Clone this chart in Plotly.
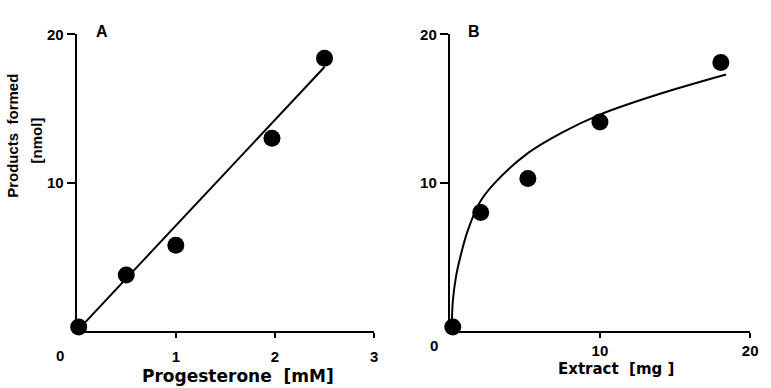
import plotly.graph_objects as go

# ---- data ----
prog_x = [0.02, 0.5, 1.0, 1.97, 2.5]
prog_y = [0.3, 3.8, 5.8, 13.0, 18.4]
prog_fit_x = [0.0, 2.5]
prog_fit_y = [0.0, 17.8]

ext_x = [0.2, 2.06, 5.2, 10.0, 18.05]
ext_y = [0.3, 8.0, 10.3, 14.1, 18.1]
ext_fit_x = [0.12, 0.15, 0.2, 0.4, 0.7, 1.2, 2.0, 3.0, 5.2, 7.5, 10.0, 14.0, 18.4]
ext_fit_y = [0.0, 1.0, 2.0, 3.6, 5.0, 6.8, 8.7, 10.0, 12.0, 13.4, 14.6, 16.0, 17.3]

W, H = 771, 388
FONT = "Liberation Sans"
WIDE = "DejaVu Sans"

def px(x):
    return x / W

def py(y):
    return 1 - y / H

fig = go.Figure()
fig.add_trace(go.Scatter(x=prog_fit_x, y=prog_fit_y, mode="lines",
                         line=dict(color="black", width=2), xaxis="x", yaxis="y",
                         cliponaxis=False, showlegend=False))
fig.add_trace(go.Scatter(x=prog_x, y=prog_y, mode="markers",
                         marker=dict(color="black", size=17), xaxis="x", yaxis="y",
                         cliponaxis=False, showlegend=False))
fig.add_trace(go.Scatter(x=ext_fit_x, y=ext_fit_y, mode="lines", line_shape="spline",
                         line=dict(color="black", width=2), xaxis="x2", yaxis="y2",
                         cliponaxis=False, showlegend=False))
fig.add_trace(go.Scatter(x=ext_x, y=ext_y, mode="markers",
                         marker=dict(color="black", size=17), xaxis="x2", yaxis="y2",
                         cliponaxis=False, showlegend=False))

tickfont = dict(family=FONT, size=15, color="black", weight="bold")
common_x = dict(showline=True, linecolor="black", linewidth=2, showgrid=False,
                zeroline=False, ticks="outside", ticklen=5, tickwidth=2,
                tickcolor="black", tickfont=tickfont)
common_y = dict(showline=True, linecolor="black", linewidth=2, showgrid=False,
                zeroline=False, ticks="outside", ticklen=8, tickwidth=2,
                tickcolor="black", tickfont=tickfont, range=[0, 20],
                tickvals=[10, 20], domain=[py(330), py(26)])

fig.update_layout(
    width=W, height=H, margin=dict(l=0, r=0, t=0, b=0),
    paper_bgcolor="white", plot_bgcolor="white",
    xaxis=dict(**common_x, range=[0, 3], tickvals=[1, 2, 3],
               domain=[px(77.5), px(378)], anchor="y", ticklabelstandoff=6),
    yaxis=dict(**common_y, anchor="x"),
    xaxis2=dict(**common_x, range=[0, 20], tickvals=[10, 20],
                domain=[px(454.5), px(758)], anchor="y2", ticklabelstandoff=0),
    yaxis2=dict(**common_y, anchor="x2"),
)

ann = []
def add_text(text, x, y, size=13, angle=0, family=FONT):
    ann.append(dict(text=text, x=px(x), y=py(y), xref="paper", yref="paper",
                    showarrow=False, textangle=angle, xanchor="center", yanchor="middle",
                    font=dict(family=family, size=size, color="black", weight="bold")))

add_text("0", 61, 355, size=15)
add_text("0", 439, 345, size=15)
add_text("A", 103, 23, size=16)
add_text("B", 479, 23, size=16)
add_text("Progesterone  [mM]", 240, 376, size=17, family=WIDE)
add_text("Extract  [mg ]", 622, 369, size=15, family=WIDE)
add_text("Products  formed", 13, 130, size=15, angle=-90)
add_text("[nmol]", 37, 135, size=15, angle=-90)
fig.update_layout(annotations=ann)

fig.write_html("out.html")
